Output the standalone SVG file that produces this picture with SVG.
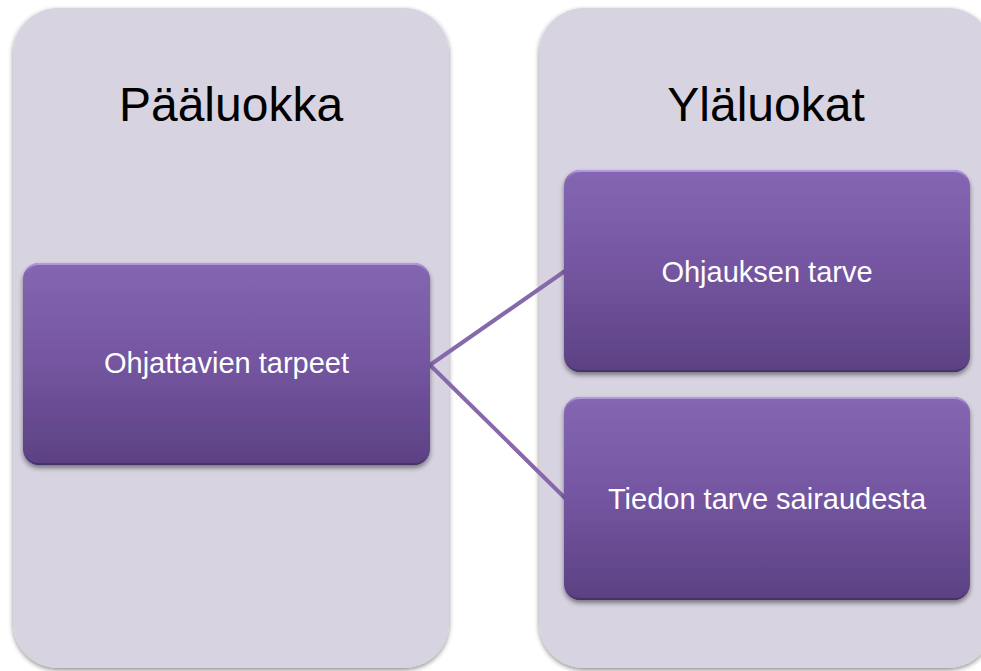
<svg xmlns="http://www.w3.org/2000/svg" width="981" height="671" viewBox="0 0 981 671">
  <defs>
    <filter id="panelShadow" x="-10%" y="-10%" width="120%" height="120%">
      <feGaussianBlur in="SourceAlpha" stdDeviation="2.5"/>
      <feOffset dx="0" dy="1.5" result="b"/>
      <feComponentTransfer><feFuncA type="linear" slope="0.45"/></feComponentTransfer>
      <feMerge><feMergeNode/><feMergeNode in="SourceGraphic"/></feMerge>
    </filter>
    <filter id="boxShadow" x="-10%" y="-10%" width="120%" height="130%">
      <feGaussianBlur in="SourceAlpha" stdDeviation="2.5"/>
      <feOffset dx="0" dy="3" result="b"/>
      <feComponentTransfer><feFuncA type="linear" slope="0.45"/></feComponentTransfer>
      <feMerge><feMergeNode/><feMergeNode in="SourceGraphic"/></feMerge>
    </filter>
    <linearGradient id="boxFill" x1="0" y1="0" x2="0" y2="1">
      <stop offset="0" stop-color="#8466b2"/>
      <stop offset="0.5" stop-color="#7455a0"/>
      <stop offset="1" stop-color="#5b4183"/>
    </linearGradient>
    <linearGradient id="boxEdge" x1="0" y1="0" x2="0" y2="1">
      <stop offset="0" stop-color="#b49ae0"/>
      <stop offset="0.06" stop-color="#8466b2" stop-opacity="0"/>
      <stop offset="0.94" stop-color="#5e4486" stop-opacity="0"/>
      <stop offset="1" stop-color="#45326a"/>
    </linearGradient>
    <style>
      .panel { fill: #d7d3e1; filter: url(#panelShadow); }
      .box { fill: url(#boxFill); filter: url(#boxShadow); }
      .boxedge { fill: none; stroke: url(#boxEdge); stroke-width: 2; }
      .title { font-family: "Liberation Sans", Arial, sans-serif; font-size: 48px; fill: #000; text-anchor: middle; }
      .label { font-family: "Liberation Sans", Arial, sans-serif; font-size: 29px; fill: #ffffff; text-anchor: middle; }
      .conn { stroke: #8769ab; stroke-width: 4; fill: none; stroke-linecap: round; }
    </style>
  </defs>

  <g id="panel-paaluokka">
    <rect class="panel" x="13" y="8" width="436" height="660" rx="45" ry="45"/>
    <text class="title" x="231" y="121">Pääluokka</text>
  </g>
  <g id="panel-ylaluokat">
    <rect class="panel" x="539" y="8" width="454" height="660" rx="45" ry="45"/>
    <text class="title" x="766" y="121">Yläluokat</text>
  </g>

  <g id="connectors">
    <line class="conn" x1="430" y1="365" x2="565" y2="271"/>
    <line class="conn" x1="430" y1="365" x2="565" y2="498"/>
  </g>

  <g id="node-ohjattavien">
    <rect class="box" x="23" y="263" width="407" height="202" rx="16" ry="16"/>
    <rect class="boxedge" x="24" y="264" width="405" height="200" rx="15" ry="15"/>
    <text class="label" x="226.5" y="373">Ohjattavien tarpeet</text>
  </g>
  <g id="node-ohjauksen">
    <rect class="box" x="564" y="170" width="406" height="202" rx="16" ry="16"/>
    <rect class="boxedge" x="565" y="171" width="404" height="200" rx="15" ry="15"/>
    <text class="label" x="767" y="282">Ohjauksen tarve</text>
  </g>
  <g id="node-tiedon">
    <rect class="box" x="564" y="397" width="406" height="203" rx="16" ry="16"/>
    <rect class="boxedge" x="565" y="398" width="404" height="201" rx="15" ry="15"/>
    <text class="label" x="767" y="509">Tiedon tarve sairaudesta</text>
  </g>
</svg>
